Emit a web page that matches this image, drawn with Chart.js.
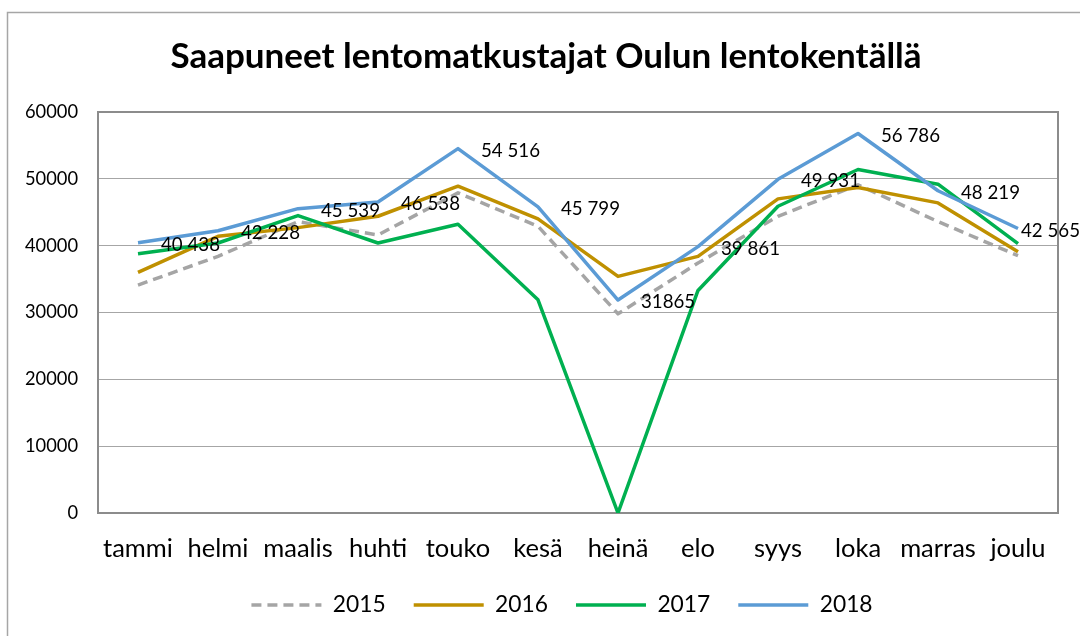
<!DOCTYPE html>
<html><head><meta charset="utf-8">
<script src="https://cdn.jsdelivr.net/npm/chart.js@4.4.1/dist/chart.umd.min.js"></script>
<style>html,body{margin:0;padding:0;background:#fff;}#wrap{width:1080px;height:636px;position:relative;}</style>
</head><body><div id="wrap"><canvas id="c"></canvas></div>
<script>
const titleText = 'Saapuneet lentomatkustajat Oulun lentokentällä';
const months = ['tammi','helmi','maalis','huhti','touko','kesä','heinä','elo','syys','loka','marras','joulu'];
const seriesNames = ['2015','2016','2017','2018'];
const v2015 = [34100,38400,43600,41600,47900,42900,29800,37400,44400,49100,43600,38500];
const v2016 = [36000,41400,42700,44400,48900,44000,35400,38400,47000,48700,46400,39100];
const v2017 = [38800,40400,44500,40400,43200,31900,0,33300,45900,51400,49200,40300];
const v2018 = [40438,42228,45539,46538,54516,45799,31865,39861,49931,56786,48219,42565];
const labels2018 = ['40 438','42 228','45 539','46 538','54 516','45 799','31865','39 861','49 931','56 786','48 219','42 565'];
const yMin = 0, yMax = 60000, yStep = 10000;

const FONT = 'Lato, "Open Sans", sans-serif';
const mctx = document.createElement('canvas').getContext('2d');
function fit(text, weight, target){ mctx.font = weight + ' 100px ' + FONT; return Math.round(1000*target/mctx.measureText(text).width)/10; }
const titleSize = fit(titleText, 'bold', 752);
const xTickSize = fit('tammi', 'normal', 70);
const yTickSize = fit('60000', 'normal', 53);
const dlSize = fit('54 516', 'normal', 59);
const legSize = fit('2015', 'normal', 53);

const padL = 0, padR = 22;
const legPad = 28;
const padB = Math.max(0, 21 - legSize/2);
const legH = legSize + legPad + 10;
const xAxisH = (636 - padB - legH) - 513;

const outerBorder = {
  id: 'outerBorder',
  beforeDraw(chart){ const c = chart.ctx; c.save(); c.fillStyle='#fff'; c.fillRect(0,0,chart.width,chart.height);
    c.strokeStyle='#a6a6a6'; c.lineWidth=1.5; c.strokeRect(7.5,12.5,chart.width+20,chart.height+20); c.restore(); }
};
const plotBorder = {
  id: 'plotBorder',
  beforeDatasetsDraw(chart){ const a = chart.chartArea, c = chart.ctx; c.save(); c.strokeStyle='#8c8c8c'; c.lineWidth=2;
    c.strokeRect(a.left, a.top, a.right-a.left, a.bottom-a.top); c.restore(); }
};
const dataLabels = {
  id: 'dataLabels',
  afterDatasetsDraw(chart){ const meta = chart.getDatasetMeta(3); const c = chart.ctx; c.save();
    c.font = dlSize + 'px ' + FONT; c.fillStyle='#000'; c.textAlign='left'; c.textBaseline='middle';
    meta.data.forEach((p,i)=>{ const w = c.measureText(labels2018[i]).width; let x = p.x + 23;
      if (x + w > chart.width) x = chart.width - w; c.fillText(labels2018[i], x, p.y + 2); }); c.restore(); }
};
const blockShift = {
  id: 'blockShift',
  afterLayout(chart){ chart.titleBlock.left += 17; chart.titleBlock.right += 17; chart.legend.left += 33; chart.legend.right += 33; }
};

const mk = (label, data, color, order, dash) => ({ label, data, borderColor: color, backgroundColor: color,
  borderWidth: 3.5, pointRadius: 0, tension: 0, fill: false, order, borderDash: dash || [], borderCapStyle: 'butt', borderJoinStyle: 'round' });

new Chart(document.getElementById('c'), {
  type: 'line',
  data: { labels: months, datasets: [
    mk(seriesNames[0], v2015, '#a5a5a5', 4, [10,6]),
    mk(seriesNames[1], v2016, '#bf9000', 3),
    mk(seriesNames[2], v2017, '#00b050', 2),
    mk(seriesNames[3], v2018, '#5b9bd5', 1)
  ]},
  options: {
    responsive: true, maintainAspectRatio: false, animation: false, devicePixelRatio: 1,
    layout: { padding: { left: padL, right: padR, top: 0, bottom: padB } },
    plugins: {
      title: { display: true, text: titleText, color: '#000', font: { family: FONT, size: titleSize, weight: 'bold', lineHeight: 1.2 },
        padding: { top: 57 - titleSize*0.6, bottom: 112 - 57 - titleSize*0.6 } },
      legend: { position: 'bottom', labels: { usePointStyle: true, pointStyle: 'line', pointStyleWidth: 70, boxWidth: 70,
        padding: legPad, color: '#000', font: { family: FONT, size: legSize }, sort: (a,b)=>a.datasetIndex-b.datasetIndex,
        generateLabels(chart){
          return Chart.defaults.plugins.legend.labels.generateLabels(chart).map(it => {
            const ds = chart.data.datasets[it.datasetIndex];
            return Object.assign(it, { lineDash: ds.borderDash || [], lineWidth: ds.borderWidth, strokeStyle: ds.borderColor, fillStyle: ds.borderColor, lineCap: 'butt' });
          });
        } } },
      tooltip: { enabled: false }
    },
    scales: {
      x: { offset: true, grid: { display: false, drawTicks: false }, border: { display: false },
        ticks: { color: '#000', padding: 20, font: { family: FONT, size: xTickSize }, maxRotation: 0, autoSkip: false },
        afterFit(s){ s.height = xAxisH; } },
      y: { min: yMin, max: yMax, grid: { color: '#a6a6a6', lineWidth: 1, drawTicks: false }, border: { display: false },
        ticks: { stepSize: yStep, color: '#000', padding: 20, font: { family: FONT, size: yTickSize }, callback: v => String(v) },
        afterFit(s){ s.width = 98 - padL; } }
    }
  },
  plugins: [outerBorder, plotBorder, dataLabels, blockShift]
});
</script></body></html>
